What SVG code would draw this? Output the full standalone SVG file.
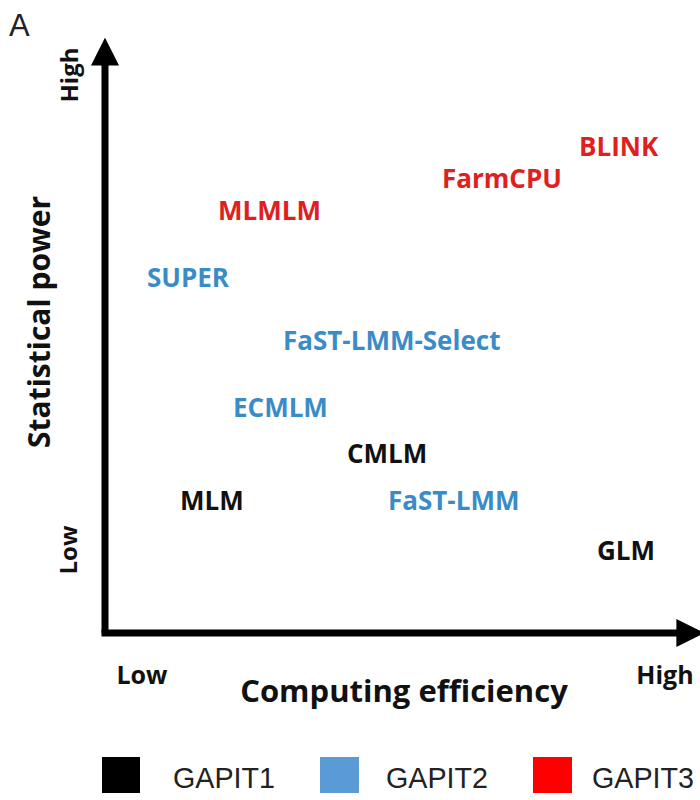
<svg xmlns="http://www.w3.org/2000/svg" width="700" height="800" viewBox="0 0 700 800">
<style>
.lbl{font-family:"Open Sans","Liberation Sans",sans-serif;font-weight:bold;font-size:26px}
.k{fill:#111}
.b{fill:#3a8cc8}
.r{fill:#e0201f}
.ax{font-family:"Open Sans","Liberation Sans",sans-serif;font-weight:bold;fill:#111}
.leg{font-family:"Liberation Sans",Arial,sans-serif;font-size:30px;fill:#222}
</style>
<defs>
<marker id="ah" viewBox="0 0 10 10" refX="2" refY="5" markerWidth="4" markerHeight="4" orient="auto" markerUnits="strokeWidth">
<path d="M0,0 L10,5 L0,10 z" fill="#000"/>
</marker>
</defs>
<rect width="700" height="800" fill="#fff"/>
<text x="9" y="36" font-family="Liberation Sans,Arial,sans-serif" font-size="31" fill="#222">A</text>
<g id="connectors">
<path d="M105,633 L105,60" stroke="#000" stroke-width="7" fill="none" marker-end="url(#ah)"/>
<path d="M101.5,633 L682,633" stroke="#000" stroke-width="7" fill="none" marker-end="url(#ah)"/>
</g>
<g id="axis-labels">
<text class="ax" font-size="24" transform="translate(78,75) rotate(-90)" text-anchor="middle">High</text>
<text class="ax" font-size="24" transform="translate(77,550) rotate(-90)" text-anchor="middle">Low</text>
<text class="ax" font-size="30" transform="translate(50,322) rotate(-90)" text-anchor="middle">Statistical power</text>
<text class="ax" font-size="25" x="142" y="684" text-anchor="middle">Low</text>
<text class="ax" font-size="25" x="665" y="684" text-anchor="middle">High</text>
<text class="ax" font-size="31" x="404" y="702" text-anchor="middle">Computing efficiency</text>
</g>
<g id="BLINK"><text class="lbl r" x="579" y="156">BLINK</text></g>
<g id="FarmCPU"><text class="lbl r" x="442" y="188">FarmCPU</text></g>
<g id="MLMLM"><text class="lbl r" x="218" y="220">MLMLM</text></g>
<g id="SUPER"><text class="lbl b" x="147" y="287">SUPER</text></g>
<g id="FaST-LMM-Select"><text class="lbl b" x="283" y="350">FaST-LMM-Select</text></g>
<g id="ECMLM"><text class="lbl b" x="233" y="417">ECMLM</text></g>
<g id="CMLM"><text class="lbl k" x="347" y="463">CMLM</text></g>
<g id="MLM"><text class="lbl k" x="180" y="510">MLM</text></g>
<g id="FaST-LMM"><text class="lbl b" x="388" y="510">FaST-LMM</text></g>
<g id="GLM"><text class="lbl k" x="597" y="560">GLM</text></g>
<g id="legend">
<rect x="102" y="757" width="38" height="36" fill="#000"/>
<text class="leg" x="173" y="788" textLength="102" lengthAdjust="spacingAndGlyphs">GAPIT1</text>
<rect x="320" y="757" width="39" height="36" fill="#5b9bd5"/>
<text class="leg" x="386" y="788" textLength="102" lengthAdjust="spacingAndGlyphs">GAPIT2</text>
<rect x="533" y="757" width="39" height="36" fill="#ff0000"/>
<text class="leg" x="592" y="788" textLength="102" lengthAdjust="spacingAndGlyphs">GAPIT3</text>
</g>
</svg>
